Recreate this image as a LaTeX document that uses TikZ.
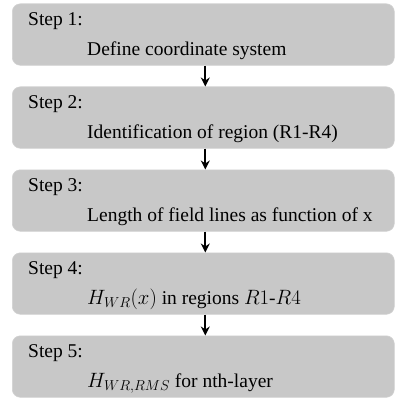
\documentclass[tikz,border=0pt]{standalone}
\usepackage{fontspec}
\setmainfont{Liberation Serif}
\usetikzlibrary{arrows.meta}
\definecolor{boxgray}{RGB}{200,200,200}
\definecolor{boxedge}{RGB}{210,210,210}
\tikzset{
  stepbox/.style={rectangle, rounded corners=8pt, fill=boxgray, draw=boxedge, line width=0.6pt,
    minimum width=382pt, minimum height=61.5pt, inner sep=0pt, anchor=north west},
  steptxt/.style={anchor=base west, inner sep=0pt, font=\fontsize{19.5}{23}\selectfont},
  arr/.style={line width=2pt, -{Stealth[length=9pt,width=9pt]}}
}
\begin{document}
\begin{tikzpicture}
\useasboundingbox (0pt,0pt) rectangle (395pt,-398pt);
\node[stepbox] (b1) at (12pt,-3.5pt) {};
\node[stepbox] (b2) at (12pt,-86.5pt) {};
\node[stepbox] (b3) at (12pt,-169.5pt) {};
\node[stepbox] (b4) at (12pt,-252.5pt) {};
\node[stepbox] (b5) at (12pt,-335.5pt) {};
\node[steptxt] (s1) at (28pt,-25.5pt) {Step 1:};
\node[steptxt] (t1) at (87pt,-55.5pt) {Define coordinate system};
\node[steptxt] (s2) at (28pt,-108.5pt) {Step 2:};
\node[steptxt] (t2) at (87pt,-138.5pt) {Identification of region (R1-R4)};
\node[steptxt] (s3) at (28pt,-191.5pt) {Step 3:};
\node[steptxt] (t3) at (87pt,-221.5pt) {Length of field lines as function of x};
\node[steptxt] (s4) at (28pt,-274.5pt) {Step 4:};
\node[steptxt] (t4) at (87pt,-304.5pt) {$H_{WR}(x)$ in regions $R1$-$R4$};
\node[steptxt] (s5) at (28pt,-357.5pt) {Step 5:};
\node[steptxt] (t5) at (87pt,-387.5pt) {$H_{WR,RMS}$ for nth-layer};
\draw[arr] ([xshift=2pt]b1.south) -- ([xshift=2pt]b2.north);
\draw[arr] ([xshift=2pt]b2.south) -- ([xshift=2pt]b3.north);
\draw[arr] ([xshift=2pt]b3.south) -- ([xshift=2pt]b4.north);
\draw[arr] ([xshift=2pt]b4.south) -- ([xshift=2pt]b5.north);
\end{tikzpicture}
\end{document}
